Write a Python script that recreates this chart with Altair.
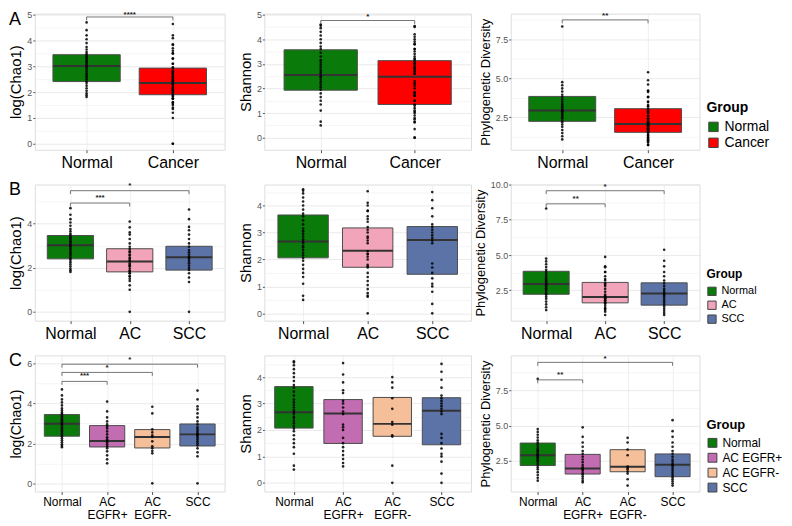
import altair as alt
import pandas as pd

# ---------------- categories ----------------
groups_A = ["Normal", "Cancer"]
groups_B = ["Normal", "AC", "SCC"]
groups_C = ["Normal", "AC EGFR+", "AC EGFR-", "SCC"]
xlabels_A = ["Normal", "Cancer"]
xlabels_B = ["Normal", "AC", "SCC"]
xlabels_C = ["Normal", "AC|EGFR+", "AC|EGFR-", "SCC"]
colors_A = ["#0A7A0A", "#FF0000"]
colors_B = ["#0A7A0A", "#F2A5BA", "#5B73A6"]
colors_C = ["#0A7A0A", "#C26DB1", "#F5BF99", "#5B73A6"]

# ---------------- sample points ----------------
chao1_normal = [1.81, 1.88, 1.95, 2.05, 2.15, 2.25, 2.35, 2.42, 2.5, 2.58, 2.65, 2.72, 2.8, 2.88,
                2.95, 3.0, 3.02, 3.08, 3.15, 3.2, 3.27, 3.33, 3.38, 3.42, 3.48, 3.55, 3.65, 3.75,
                3.9, 4.05, 4.2, 4.4, 4.7]
chao1_egfr_pos = [1.0, 1.2, 1.4, 1.6, 1.75, 1.85, 1.95, 2.05, 2.12, 2.2, 2.3, 2.45, 2.6, 2.75,
                  2.85, 2.95, 3.1, 3.3, 3.6, 4.09]
chao1_egfr_neg = [0.0, 1.5, 1.62, 1.75, 1.85, 2.1, 2.32, 2.4, 2.55, 2.7, 3.5, 3.83]
chao1_scc = [0.0, 1.35, 1.55, 1.75, 1.9, 2.0, 2.1, 2.2, 2.3, 2.4, 2.45, 2.5, 2.6, 2.7, 2.8,
             2.95, 3.1, 3.3, 3.5, 3.7, 3.85, 4.2, 4.64]

shannon_normal = [0.5, 0.65, 1.1, 1.35, 1.5, 1.65, 1.8, 1.95, 2.05, 2.15, 2.25, 2.35, 2.45, 2.5,
                  2.6, 2.67, 2.75, 2.85, 2.95, 3.05, 3.15, 3.3, 3.45, 3.6, 3.7, 3.85, 4.0, 4.15,
                  4.3, 4.45, 4.55, 4.6]
shannon_egfr_pos = [0.62, 0.75, 0.9, 1.05, 1.2, 1.35, 1.5, 1.7, 2.0, 2.1, 2.2, 2.6, 2.7, 2.85,
                    3.0, 3.1, 3.4, 3.5, 3.8, 4.1, 4.53]
shannon_egfr_neg = [0.0, 0.65, 1.75, 1.8, 2.2, 2.3, 2.8, 3.2, 3.6, 3.8, 4.0]
shannon_scc = [0.0, 0.35, 0.8, 1.0, 1.1, 1.3, 1.5, 1.7, 1.85, 2.6, 2.7, 2.8, 2.9, 3.0, 3.1,
               3.2, 3.3, 3.6, 3.9, 4.2, 4.5]

pd_normal = [1.1, 1.3, 1.5, 1.7, 1.9, 2.05, 2.2, 2.3, 2.45, 2.55, 2.65, 2.75, 2.85, 2.9, 2.95,
             3.05, 3.15, 3.25, 3.35, 3.5, 3.65, 3.8, 3.95, 4.15, 4.35, 4.55, 4.75, 8.3]
pd_egfr_pos = [0.98, 1.1, 1.25, 1.4, 1.55, 1.65, 1.8, 1.9, 1.95, 2.05, 2.2, 2.4, 2.6, 2.8, 3.0,
               3.2, 3.5, 3.8, 4.2, 4.87]
pd_egfr_neg = [0.75, 1.2, 1.6, 1.75, 1.9, 2.0, 2.1, 2.9, 3.3, 3.8, 4.13]
pd_scc = [0.75, 0.9, 1.05, 1.2, 1.35, 1.5, 1.65, 1.8, 1.95, 2.1, 2.2, 2.3, 2.45, 2.6, 2.8, 3.0,
          3.2, 3.5, 3.8, 4.2, 4.6, 5.38]

# ---------------- box statistics (q1, median, q3) ----------------
chao1_A_q1, chao1_A_med, chao1_A_q3 = [2.41, 1.90], [3.01, 2.35], [3.45, 2.93]
shan_A_q1, shan_A_med, shan_A_q3 = [1.93, 1.35], [2.55, 2.48], [3.57, 3.13]
pd_A_q1, pd_A_med, pd_A_q3 = [2.25, 1.55], [2.94, 2.08], [3.84, 3.06]

chao1_B_q1, chao1_B_med, chao1_B_q3 = [2.40, 1.81, 1.89], [3.02, 2.28, 2.47], [3.46, 2.86, 2.97]
shan_B_q1, shan_B_med, shan_B_q3 = [2.06, 1.71, 1.45], [2.67, 2.32, 2.72], [3.65, 3.17, 3.22]
pd_B_q1, pd_B_med, pd_B_q3 = [2.22, 1.61, 1.45], [2.94, 2.03, 2.27], [3.85, 3.06, 3.03]

chao1_C_q1, chao1_C_med, chao1_C_q3 = [2.36, 1.82, 1.77, 1.87], [2.98, 2.12, 2.32, 2.45], [3.44, 2.89, 2.69, 2.97]
shan_C_q1, shan_C_med, shan_C_q3 = [2.07, 1.49, 1.76, 1.44], [2.67, 2.62, 2.23, 2.73], [3.64, 3.15, 3.23, 3.22]
pd_C_q1, pd_C_med, pd_C_q3 = [2.17, 1.57, 1.73, 1.38], [2.90, 1.96, 2.08, 2.22], [3.76, 2.96, 3.29, 2.99]

# ---------------- significance brackets: (from, to, height, label, label height) ----------------
sig_chao1_A = [(1, 2, 4.91, "****", 5.0)]
sig_shan_A = [(1, 2, 4.76, "*", 4.92)]
sig_pd_A = [(1, 2, 8.72, "**", 8.95)]
sig_chao1_B = [(1, 2, 4.93, "***", 5.15), (1, 3, 5.49, "*", 5.68)]
sig_shan_B = []
sig_pd_B = [(1, 2, 8.63, "**", 8.98), (1, 3, 9.56, "*", 9.84)]
sig_chao1_C = [(1, 2, 5.10, "***", 5.35), (1, 3, 5.55, "*", 5.76), (1, 4, 5.96, "*", 6.17)]
sig_shan_C = []
sig_pd_C = [(1, 2, 8.23, "**", 8.58), (1, 4, 9.47, "*", 9.72)]

FONT = "Liberation Sans"
half = [i * 0.5 for i in range(0, 11)]
pd_ticks = [1.25, 2.5, 3.75, 5.0, 6.25, 7.5, 8.75, 10.0]


def points_for(groups, metric):
    src = {
        "chao1": {"Normal": chao1_normal, "AC EGFR+": chao1_egfr_pos, "AC EGFR-": chao1_egfr_neg, "SCC": chao1_scc},
        "shan": {"Normal": shannon_normal, "AC EGFR+": shannon_egfr_pos, "AC EGFR-": shannon_egfr_neg, "SCC": shannon_scc},
        "pd": {"Normal": pd_normal, "AC EGFR+": pd_egfr_pos, "AC EGFR-": pd_egfr_neg, "SCC": pd_scc},
    }[metric]
    src = dict(src)
    src["AC"] = src["AC EGFR+"] + src["AC EGFR-"]
    src["Cancer"] = src["AC"] + src["SCC"]
    rows = []
    for i, g in enumerate(groups):
        for v in src[g]:
            rows.append({"group": g, "pos": i + 1, "value": v})
    return pd.DataFrame(rows)


def panel(groups, xlabels, colors, metric, q1, med, q3, domain, yvals, major, fmt,
          ytitle, ytitle_size, xfs, sigs, width, height, legend=None, letter=None):
    n = len(groups)
    box_df = pd.DataFrame({"group": groups, "pos": list(range(1, n + 1)), "q1": q1, "med": med, "q3": q3})
    pts = points_for(groups, metric)
    xscale = alt.Scale(domain=[0.4, n + 0.6], nice=False, zero=False)
    yscale = alt.Scale(domain=domain, nice=False, zero=False)
    arr = "[" + ",".join("'" + l + "'" for l in xlabels) + "]"
    xaxis = alt.Axis(values=list(range(1, n + 1)), labelExpr="split(" + arr + "[datum.value - 1], '|')",
                     title=None, grid=True, gridColor="#EBEBEB", gridWidth=0.8, labelFontSize=xfs,
                     labelColor="black", labelFont=FONT, tickColor="#555", tickSize=3, labelPadding=2,
                     domain=False, labelLineHeight=xfs + 1.5, labelBaseline="top", labelOverlap=False,
                     labelFlush=False)
    yaxis = alt.Axis(values=yvals, title=ytitle, titleFontSize=ytitle_size, titleFont=FONT,
                     titleFontWeight="normal", titleColor="black", titlePadding=3,
                     labelExpr="(" + major + ") ? format(datum.value, '" + fmt + "') : ''",
                     labelFontSize=9, labelColor="#555", labelFont=FONT, labelPadding=1,
                     tickSize=2, domain=False, labelOverlap=False,
                     tickColor={"condition": {"test": major, "value": "#555"}, "value": "transparent"},
                     gridColor={"condition": {"test": major, "value": "#E4E4E4"}, "value": "#F3F3F3"},
                     gridWidth=0.8)

    def X(f):
        return alt.X(f, type="quantitative", scale=xscale, axis=xaxis)

    def Y(f):
        return alt.Y(f, type="quantitative", scale=yscale, axis=yaxis)

    color = alt.Color("group:N", scale=alt.Scale(domain=groups, range=colors), legend=legend)

    boxes = alt.Chart(box_df).transform_calculate(
        xlo="datum.pos - 0.39", xhi="datum.pos + 0.39"
    ).mark_rect(stroke="#4d4d4d", strokeWidth=1).encode(
        x=X("xlo"), x2="xhi", y=Y("q1"), y2="q3", color=color)
    medians = alt.Chart(box_df).transform_calculate(
        xlo="datum.pos - 0.39", xhi="datum.pos + 0.39"
    ).mark_rule(color="#333333", strokeWidth=2).encode(x=X("xlo"), x2="xhi", y=Y("med"))
    dots = alt.Chart(pts).mark_circle(size=7, color="black", opacity=0.85).encode(
        x=X("pos"), y=Y("value"))
    layers = [boxes, medians, dots]

    if sigs:
        tip = 0.025 * (domain[1] - domain[0])
        sdf = pd.DataFrame([{"x1": a, "x2": b, "y": h, "label": l, "ly": lh} for a, b, h, l, lh in sigs])
        sb = alt.Chart(sdf).transform_calculate(yt="datum.y - " + str(tip), xm="(datum.x1 + datum.x2) / 2")
        layers.append(sb.mark_rule(color="#666", strokeWidth=0.9).encode(x=X("x1"), x2="x2", y=Y("y")))
        layers.append(sb.mark_rule(color="#666", strokeWidth=0.9).encode(x=X("x1"), y=Y("y"), y2="yt"))
        layers.append(sb.mark_rule(color="#666", strokeWidth=0.9).encode(x=X("x2"), y=Y("y"), y2="yt"))
        layers.append(sb.mark_text(fontSize=8, fontWeight="bold", color="#222", baseline="middle",
                                   font=FONT).encode(x=X("xm"), y=Y("ly"), text="label:N"))
    if letter:
        ldf = pd.DataFrame({"t": [letter]})
        layers.append(alt.Chart(ldf).mark_text(fontSize=18, align="left", baseline="top", font=FONT,
                                               color="black").encode(
            x=alt.value(-26), y=alt.value(-3), text="t:N"))
    return alt.layer(*layers).properties(width=width, height=height)


def leg(title_size, label_size, sym, lx, ly, rowpad):
    return alt.Legend(title="Group", orient="none", legendX=lx, legendY=ly, titleFontSize=title_size,
                      titleFontWeight="bold", titleFont=FONT, titleColor="black", labelFont=FONT,
                      labelFontSize=label_size, labelColor="black", symbolType="square", symbolSize=sym,
                      symbolStrokeColor="#444", symbolStrokeWidth=1, rowPadding=rowpad, titlePadding=5,
                      labelOffset=4)


W1, W2, W3, H = 191, 208, 190, 137
int_test = "datum.value % 1 == 0"
even_test = "datum.value % 2 == 0"
pd_test = "datum.value % 2.5 == 0"

pA1 = panel(groups_A, xlabels_A, colors_A, "chao1", chao1_A_q1, chao1_A_med, chao1_A_q3, [-0.23, 5.04],
            half, int_test, "d", "log(Chao1)", 15, 16, sig_chao1_A, W1, H, letter="A")
pA2 = panel(groups_A, xlabels_A, colors_A, "shan", shan_A_q1, shan_A_med, shan_A_q3, [-0.49, 5.04],
            half, int_test, "d", "Shannon", 15, 16, sig_shan_A, W2, H)
pA3 = panel(groups_A, xlabels_A, colors_A, "pd", pd_A_q1, pd_A_med, pd_A_q3, [0.44, 9.12],
            pd_ticks[:7], pd_test, ".1f", "Phylogenetic Diversity", 13, 16, sig_pd_A, W3, H,
            legend=leg(14, 14, 90, 197, 88, 2))

pB1 = panel(groups_B, xlabels_B, colors_B, "chao1", chao1_B_q1, chao1_B_med, chao1_B_q3, [-0.4, 5.77],
            [0, 1, 2, 3, 4, 5], even_test, "d", "log(Chao1)", 15, 16, sig_chao1_B, W1, H, letter="B")
pB2 = panel(groups_B, xlabels_B, colors_B, "shan", shan_B_q1, shan_B_med, shan_B_q3, [-0.27, 4.78],
            half[:10], int_test, "d", "Shannon", 15, 16, sig_shan_B, W2, H)
pB3 = panel(groups_B, xlabels_B, colors_B, "pd", pd_B_q1, pd_B_med, pd_B_q3, [0.35, 10.0],
            pd_ticks, pd_test, ".1f", "Phylogenetic Diversity", 13, 16, sig_pd_B, W3, H,
            legend=leg(12, 11, 70, 197, 85, 1))

pC1 = panel(groups_C, xlabels_C, colors_C, "chao1", chao1_C_q1, chao1_C_med, chao1_C_q3, [-0.41, 6.4],
            [0, 1, 2, 3, 4, 5, 6], even_test, "d", "log(Chao1)", 14, 12, sig_chao1_C, W1, H, letter="C")
pC2 = panel(groups_C, xlabels_C, colors_C, "shan", shan_C_q1, shan_C_med, shan_C_q3, [-0.33, 4.82],
            half[:10], int_test, "d", "Shannon", 15, 12, sig_shan_C, W2, H)
pC3 = panel(groups_C, xlabels_C, colors_C, "pd", pd_C_q1, pd_C_med, pd_C_q3, [0.33, 9.96],
            pd_ticks[:7], pd_test, ".1f", "Phylogenetic Diversity", 13, 12, sig_pd_C, W3, H,
            legend=leg(13, 12, 80, 197, 64, 1))

chart = alt.concat(pA1, pA2, pA3, pB1, pB2, pB3, pC1, pC2, pC3, columns=3,
                   spacing=alt.RowColnumber(row=35, column=40), bounds="flush", align="each"
                   ).resolve_scale(color="independent", x="independent", y="independent"
                   ).properties(padding={"left": 0, "top": 0, "right": 0, "bottom": 0}
                   ).configure_view(stroke="#777777", strokeWidth=1.2
                   ).configure(background="white")

chart.save("out.html", embed_options={"renderer": "svg", "actions": False})
